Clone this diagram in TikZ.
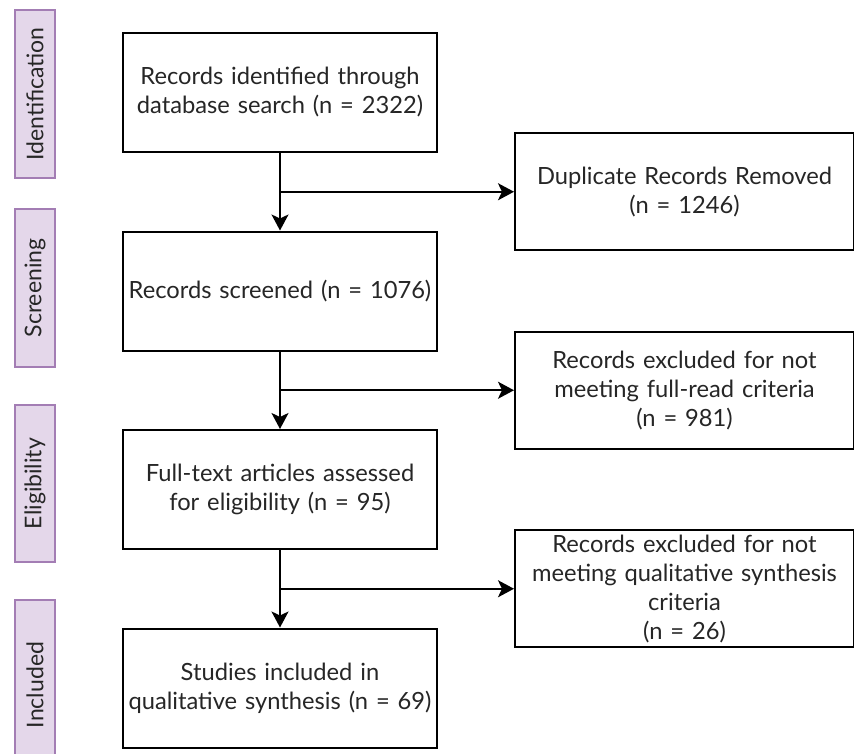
\documentclass[tikz,border=0pt]{standalone}
\usepackage{fontspec}
\setmainfont{Lato}
\usetikzlibrary{arrows.meta, positioning, calc}
\definecolor{stagefill}{HTML}{E4D7EA}
\definecolor{stageline}{HTML}{A37DB4}
\definecolor{inktext}{HTML}{262626}
\tikzstyle{block}=[draw,line width=2pt,fill=white,rectangle,align=center,text=inktext,inner sep=2pt]
\tikzstyle{mainblock}=[block,minimum width=314pt,minimum height=119pt,text width=310pt]
\tikzstyle{sideblock}=[block,minimum width=339pt,minimum height=117pt,text width=335pt,anchor=west]
\tikzstyle{stage}=[draw=stageline,line width=1.5pt,fill=stagefill,rectangle,rotate=90,minimum height=40pt,inner sep=0pt,font=\fontsize{23}{26}\selectfont,text=inktext]
\tikzstyle{every node}=[font=\fontsize{23.7}{29}\selectfont]

\begin{document}
\begin{tikzpicture}[x=1pt,y=-1pt,>={Stealth[length=16pt,width=17pt,inset=4pt]},line width=2pt]
  \useasboundingbox (0,0) rectangle (854,753);
  % main chain
  \node[mainblock] (ident) at (280,92.5) {Records identified through\\database search (n = 2322)};
  \node[mainblock, below=77.5pt of ident] (screen) {Records screened (n = 1076)};
  \node[mainblock, below=77.5pt of screen] (elig) {Full-text articles assessed\\for eligibility (n = 95)};
  \node[mainblock, below=77.5pt of elig] (incl) {Studies included in\\qualitative synthesis (n = 69)};
  % branch points
  \coordinate (b1) at ($(ident.south)!0.5!(screen.north)$);
  \coordinate (b2) at ($(screen.south)!0.5!(elig.north)$);
  \coordinate (b3) at ($(elig.south)!0.5!(incl.north)$);
  % side boxes
  \node[sideblock] (dup) at (514,0 |- b1) {Duplicate Records Removed\\(n = 1246)};
  \node[sideblock] (exfull) at (514,0 |- b2) {Records excluded for not\\meeting full-read criteria\\(n = 981)};
  \node[sideblock] (exqual) at (514,0 |- b3) {Records excluded for not\\meeting qualitative synthesis\\criteria\\(n = 26)};
  % stages
  \node[stage, minimum width=168pt] (sid) at (35,94) {Identification};
  \node[stage, minimum width=158pt] (sscr) at (35,288) {Screening};
  \node[stage, minimum width=157pt] (selig) at (35,483.5) {Eligibility};
  \node[stage, minimum width=170pt] (sincl) at (35,685) {Included};
  % connectors
  \draw[->] (ident) -- (screen);
  \draw[->] (screen) -- (elig);
  \draw[->] (elig) -- (incl);
  \draw[->] (b1) -- (dup.west);
  \draw[->] (b2) -- (exfull.west);
  \draw[->] (b3) -- (exqual.west);
\end{tikzpicture}
\end{document}
